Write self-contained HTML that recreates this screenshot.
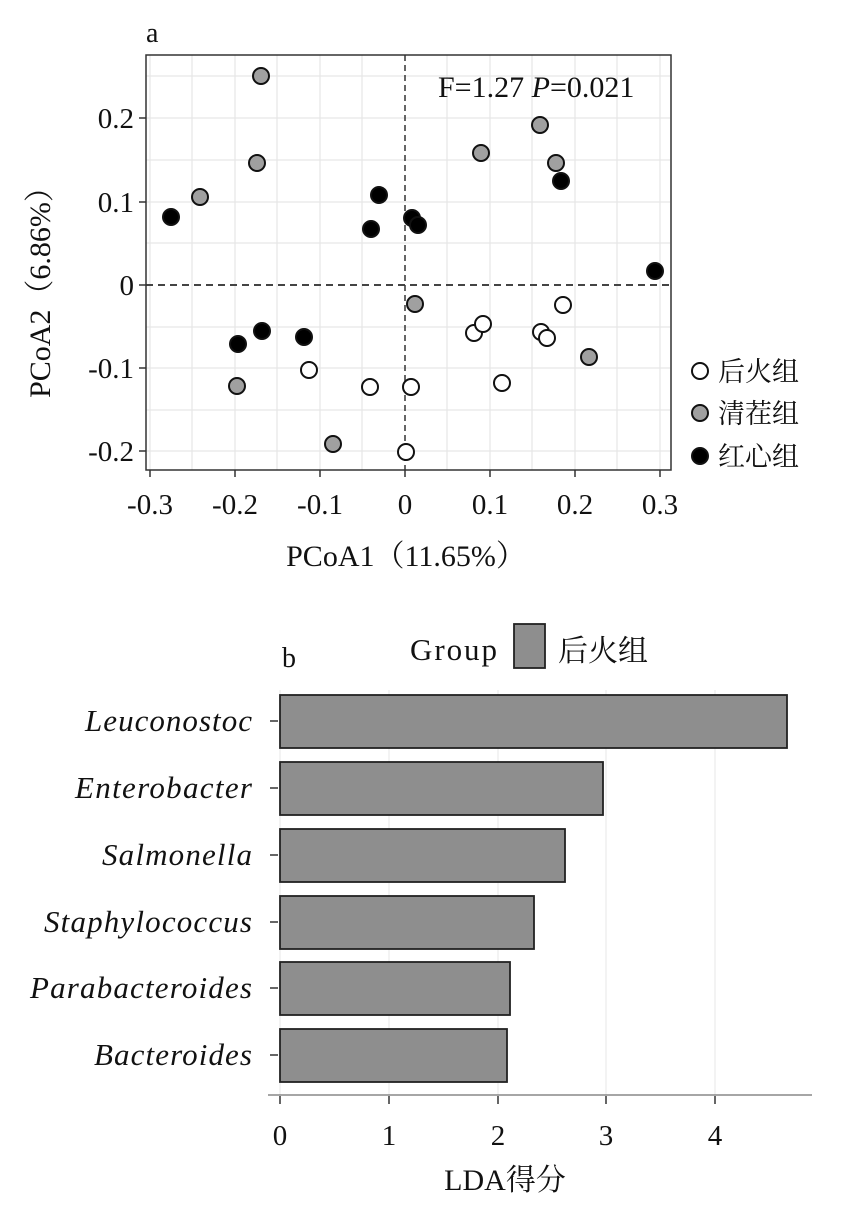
<!DOCTYPE html>
<html><head><meta charset="utf-8"><style>
body{margin:0;background:#fff;}
text{font-family:"Liberation Serif","Noto Serif CJK SC","Noto Sans CJK SC",serif;fill:#111;}
</style></head><body>
<svg width="846" height="1215" viewBox="0 0 846 1215" xmlns="http://www.w3.org/2000/svg">
<g stroke="#e6e6e6" stroke-width="1.2">
<line x1="150" y1="55" x2="150" y2="470"/><line x1="192" y1="55" x2="192" y2="470"/><line x1="235" y1="55" x2="235" y2="470"/><line x1="277" y1="55" x2="277" y2="470"/><line x1="320" y1="55" x2="320" y2="470"/><line x1="362" y1="55" x2="362" y2="470"/><line x1="447" y1="55" x2="447" y2="470"/><line x1="490" y1="55" x2="490" y2="470"/><line x1="532" y1="55" x2="532" y2="470"/><line x1="575" y1="55" x2="575" y2="470"/><line x1="617" y1="55" x2="617" y2="470"/><line x1="660" y1="55" x2="660" y2="470"/>
<line x1="146" y1="76" x2="670" y2="76"/><line x1="146" y1="118" x2="670" y2="118"/><line x1="146" y1="160" x2="670" y2="160"/><line x1="146" y1="202" x2="670" y2="202"/><line x1="146" y1="243" x2="670" y2="243"/><line x1="146" y1="327" x2="670" y2="327"/><line x1="146" y1="368" x2="670" y2="368"/><line x1="146" y1="410" x2="670" y2="410"/><line x1="146" y1="451" x2="670" y2="451"/>
</g>
<line x1="146" y1="285" x2="670" y2="285" stroke="#444" stroke-width="2" stroke-dasharray="7,5"/>
<line x1="405" y1="55" x2="405" y2="470" stroke="#333" stroke-width="1.5" stroke-dasharray="6,4"/>
<rect x="146" y="55" width="525" height="415" fill="none" stroke="#333" stroke-width="1.5"/>
<g stroke="#333" stroke-width="1.5">
<line x1="150" y1="470" x2="150" y2="477"/><line x1="235" y1="470" x2="235" y2="477"/><line x1="320" y1="470" x2="320" y2="477"/><line x1="405" y1="470" x2="405" y2="477"/><line x1="490" y1="470" x2="490" y2="477"/><line x1="575" y1="470" x2="575" y2="477"/><line x1="660" y1="470" x2="660" y2="477"/>
<line x1="139" y1="118" x2="146" y2="118"/><line x1="139" y1="202" x2="146" y2="202"/><line x1="139" y1="285" x2="146" y2="285"/><line x1="139" y1="368" x2="146" y2="368"/><line x1="139" y1="451" x2="146" y2="451"/>
</g>
<g font-size="29" text-anchor="middle">
<text x="150" y="514">-0.3</text><text x="235" y="514">-0.2</text><text x="320" y="514">-0.1</text><text x="405" y="514">0</text><text x="490" y="514">0.1</text><text x="575" y="514">0.2</text><text x="660" y="514">0.3</text>
</g>
<g font-size="29" text-anchor="end">
<text x="134" y="128">0.2</text><text x="134" y="212">0.1</text><text x="134" y="295">0</text><text x="134" y="378">-0.1</text><text x="134" y="461">-0.2</text>
</g>
<text x="406" y="566" font-size="30" text-anchor="middle">PCoA1（11.65%）</text>
<text transform="translate(50,285) rotate(-90)" font-size="30" text-anchor="middle">PCoA2（6.86%）</text>
<text x="146" y="42" font-size="28">a</text>
<text x="438" y="97" font-size="30">F=1.27 <tspan font-style="italic">P</tspan>=0.021</text>
<g stroke="#111" stroke-width="2">
<g fill="#a0a0a0">
<circle cx="261" cy="76" r="8"/><circle cx="257" cy="163" r="8"/><circle cx="200" cy="197" r="8"/><circle cx="481" cy="153" r="8"/><circle cx="540" cy="125" r="8"/><circle cx="556" cy="163" r="8"/><circle cx="415" cy="304" r="8"/><circle cx="589" cy="357" r="8"/><circle cx="237" cy="386" r="8"/><circle cx="333" cy="444" r="8"/>
</g>
<g fill="#000">
<circle cx="171" cy="217" r="8"/><circle cx="379" cy="195" r="8"/><circle cx="371" cy="229" r="8"/><circle cx="412" cy="218" r="8"/><circle cx="418" cy="225" r="8"/><circle cx="561" cy="181" r="8"/><circle cx="655" cy="271" r="8"/><circle cx="238" cy="344" r="8"/><circle cx="262" cy="331" r="8"/><circle cx="304" cy="337" r="8"/>
</g>
<g fill="#fff">
<circle cx="309" cy="370" r="8"/><circle cx="370" cy="387" r="8"/><circle cx="411" cy="387" r="8"/><circle cx="406" cy="452" r="8"/><circle cx="474" cy="333" r="8"/><circle cx="483" cy="324" r="8"/><circle cx="541" cy="332" r="8"/><circle cx="547" cy="338" r="8"/><circle cx="563" cy="305" r="8"/><circle cx="502" cy="383" r="8"/>
</g>
<circle cx="700" cy="371" r="8" fill="#fff"/><circle cx="700" cy="413" r="8" fill="#a0a0a0"/><circle cx="700" cy="456" r="8" fill="#000"/>
</g>
<g font-size="27"><text x="718" y="381">后火组</text><text x="718" y="423">清茬组</text><text x="718" y="466">红心组</text></g>

<!-- b -->
<g stroke="#ebebeb" stroke-width="1.2">
<line x1="389" y1="690" x2="389" y2="1095"/><line x1="498" y1="690" x2="498" y2="1095"/><line x1="606" y1="690" x2="606" y2="1095"/><line x1="715" y1="690" x2="715" y2="1095"/><line x1="280" y1="690" x2="280" y2="1095"/>
</g>
<g fill="#8e8e8e" stroke="#222" stroke-width="1.8">
<rect x="280" y="695" width="507" height="53"/><rect x="280" y="762" width="323" height="53"/><rect x="280" y="829" width="285" height="53"/><rect x="280" y="896" width="254" height="53"/><rect x="280" y="962" width="230" height="53"/><rect x="280" y="1029" width="227" height="53"/>
</g>
<g stroke="#333" stroke-width="1.5">
<line x1="270" y1="721" x2="278" y2="721"/><line x1="270" y1="788" x2="278" y2="788"/><line x1="270" y1="855" x2="278" y2="855"/><line x1="270" y1="922" x2="278" y2="922"/><line x1="270" y1="988" x2="278" y2="988"/><line x1="270" y1="1055" x2="278" y2="1055"/>
<line x1="280" y1="1096" x2="280" y2="1104"/><line x1="389" y1="1096" x2="389" y2="1104"/><line x1="498" y1="1096" x2="498" y2="1104"/><line x1="606" y1="1096" x2="606" y2="1104"/><line x1="715" y1="1096" x2="715" y2="1104"/>
</g>
<line x1="268" y1="1095" x2="812" y2="1095" stroke="#888" stroke-width="1.5"/>
<g font-size="31" font-style="italic" text-anchor="end">
<text x="252" y="731" textLength="167">Leuconostoc</text><text x="252" y="798" textLength="177">Enterobacter</text><text x="252" y="865" textLength="150">Salmonella</text><text x="252" y="932" textLength="208">Staphylococcus</text><text x="252" y="998" textLength="222">Parabacteroides</text><text x="252" y="1065" textLength="158">Bacteroides</text>
</g>
<g font-size="29" text-anchor="middle">
<text x="280" y="1145">0</text><text x="389" y="1145">1</text><text x="498" y="1145">2</text><text x="606" y="1145">3</text><text x="715" y="1145">4</text>
<text x="505" y="1190" font-size="30">LDA得分</text>
</g>
<text x="282" y="667" font-size="28">b</text>
<text x="410" y="660" font-size="31" textLength="87">Group</text>
<rect x="514" y="624" width="31" height="44" fill="#8e8e8e" stroke="#222" stroke-width="1.8"/>
<text x="558" y="661" font-size="30">后火组</text>
</svg>
</body></html>
